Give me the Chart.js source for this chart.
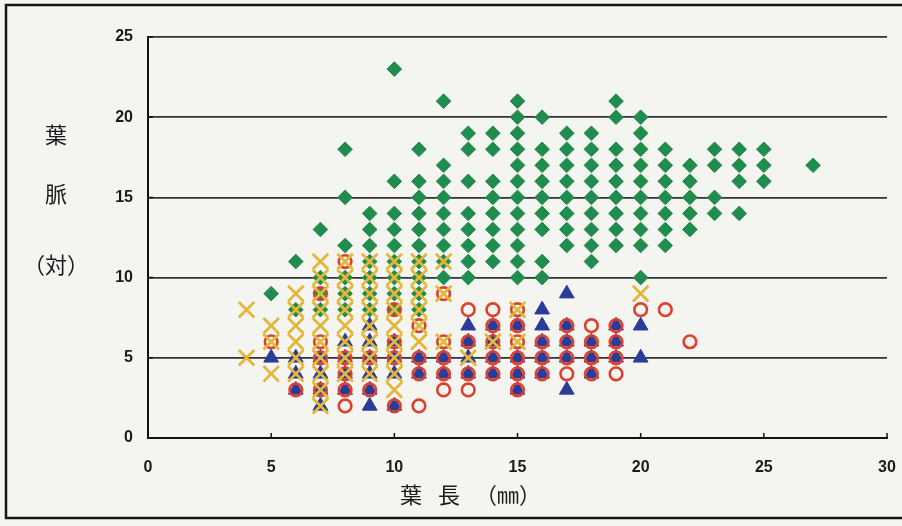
<!DOCTYPE html>
<html>
<head>
<meta charset="utf-8">
<script src="https://cdn.jsdelivr.net/npm/chart.js@4.4.1/dist/chart.umd.min.js"></script>
<style>
  html, body { margin: 0; padding: 0; background: #f4f4f1; }
  #wrap { position: relative; width: 902px; height: 526px; }
</style>
</head>
<body>
<div id="wrap"><canvas id="c" width="902" height="526"></canvas></div>
<script>
// ═══════════════════════════════════════════
// データ: 葉長(mm) ごとに葉脈数(対) を列で並べる
// ═══════════════════════════════════════════
const xTicks = [0, 5, 10, 15, 20, 25, 30];
const yTicks = [0, 5, 10, 15, 20, 25];

// ◆ 緑
const greenCols = [
  [5, [9]], [6, [8, 11]], [7, [8, 9, 10, 13]], [8, [8, 9, 10, 12, 15, 18]],
  [9, [8, 9, 10, 11, 12, 13, 14]], [10, [8, 9, 10, 11, 12, 13, 14, 16, 23]],
  [11, [8, 9, 10, 11, 12, 13, 14, 15, 16, 18]], [12, [10, 11, 12, 13, 14, 15, 16, 17, 21]],
  [13, [10, 11, 12, 13, 14, 16, 18, 19]], [14, [11, 12, 13, 14, 15, 16, 18, 19]],
  [15, [10, 11, 12, 13, 14, 15, 16, 17, 18, 19, 20, 21]], [16, [10, 11, 13, 14, 15, 16, 17, 18, 20]],
  [17, [12, 13, 14, 15, 16, 17, 18, 19]], [18, [11, 12, 13, 14, 15, 16, 17, 18, 19]],
  [19, [12, 13, 14, 15, 16, 17, 18, 20, 21]], [20, [10, 12, 13, 14, 15, 16, 17, 18, 19, 20]],
  [21, [12, 13, 14, 15, 16, 17, 18]], [22, [13, 14, 15, 16, 17]],
  [23, [14, 15, 17, 18]], [24, [14, 16, 17, 18]], [25, [16, 17, 18]], [27, [17]]
];
// × 黄
const yellowCols = [
  [4, [5, 8]], [5, [4, 6, 7]], [6, [4, 5, 6, 7, 8, 9]], [7, [2, 3, 4, 5, 6, 7, 8, 9, 10, 11]],
  [8, [4, 5, 6, 7, 8, 9, 10, 11]], [9, [4, 5, 6, 7, 8, 9, 10, 11]], [10, [3, 4, 5, 6, 7, 8, 9, 10, 11]],
  [11, [6, 7, 8, 9, 10, 11]], [12, [6, 9, 11]], [13, [5]], [14, [6]], [15, [6, 8]], [20, [9]]
];
// ▲ 青
const blueCols = [
  [5, [5]], [6, [3, 4, 5]], [7, [2, 3, 4, 5]], [8, [3, 4, 5, 6]], [9, [2, 3, 4, 5, 6, 7]],
  [10, [2, 4, 5, 6]], [11, [4, 5]], [12, [4, 5]], [13, [4, 5, 6, 7]], [14, [4, 5, 6, 7]],
  [15, [3, 4, 5, 7]], [16, [4, 5, 6, 7, 8]], [17, [3, 5, 6, 7, 9]], [18, [4, 5, 6]],
  [19, [5, 6, 7]], [20, [5, 7]]
];
// ○ 赤
const redCols = [
  [5, [6]], [6, [3]], [7, [3, 5, 6, 9]], [8, [2, 3, 4, 5, 11]], [9, [3, 5]], [10, [2, 5, 6, 8]],
  [11, [2, 4, 5, 7]], [12, [3, 4, 5, 6, 9]], [13, [3, 4, 6, 8]], [14, [4, 5, 6, 7, 8]],
  [15, [3, 4, 5, 6, 7, 8]], [16, [4, 5, 6]], [17, [4, 5, 6, 7]], [18, [4, 5, 6, 7]],
  [19, [4, 5, 6, 7]], [20, [8]], [21, [8]], [22, [6]]
];

function flat(cols) {
  const out = [];
  cols.forEach(([x, ys]) => ys.forEach(y => out.push({ x, y })));
  return out;
}

const GREEN = '#208c4e', YELLOW = '#e2b73a', BLUE = '#2b3b98', RED = '#de402c';
const INK = '#1b1b1b';

// 背景・枠・目盛り・軸タイトル
const paperPlugin = {
  id: 'paper',
  beforeDraw(chart) {
    const ctx = chart.ctx;
    ctx.save();
    ctx.fillStyle = '#f4f4f1';
    ctx.fillRect(0, 0, chart.width, chart.height);
    ctx.strokeStyle = '#151515';
    ctx.lineWidth = 2.5;
    ctx.beginPath();
    ctx.moveTo(902, 5); ctx.lineTo(6, 5); ctx.lineTo(6, 518); ctx.lineTo(902, 518);
    ctx.stroke();
    ctx.restore();
  },
  afterDraw(chart) {
    const ctx = chart.ctx;
    const xs = chart.scales.x, ys = chart.scales.y, a = chart.chartArea;
    ctx.save();
    // 内向きの短い目盛り
    ctx.strokeStyle = '#111';
    ctx.lineWidth = 1.5;
    ctx.beginPath();
    xTicks.forEach(v => { const px = xs.getPixelForValue(v); ctx.moveTo(px, a.bottom); ctx.lineTo(px, a.bottom - 5); });
    yTicks.forEach(v => { const py = ys.getPixelForValue(v); ctx.moveTo(a.left, py); ctx.lineTo(a.left + 5, py); });
    ctx.stroke();

    ctx.fillStyle = INK;
    ctx.textAlign = 'center';
    ctx.textBaseline = 'middle';
    ctx.font = '22px "Noto Sans CJK JP"';
    ctx.fillText('葉', 56, 135);
    ctx.fillText('脈', 56, 194);
    ctx.fillText('（対）', 56, 265);
    ctx.fillText('葉', 411, 495);
    ctx.fillText('長', 449, 495);
    ctx.fillText('（㎜）', 508, 495);
    ctx.restore();
  }
};

new Chart(document.getElementById('c'), {
  type: 'scatter',
  data: {
    datasets: [
      { label: '×', data: flat(yellowCols), pointStyle: 'crossRot', pointRadius: 11,
        borderColor: YELLOW, backgroundColor: YELLOW, pointBorderWidth: 2.8 },
      { label: '○', data: flat(redCols), pointStyle: 'circle', pointRadius: 6.3,
        borderColor: RED, backgroundColor: 'rgba(0,0,0,0)', pointBorderWidth: 2.6 },
      { label: '▲', data: flat(blueCols), pointStyle: 'triangle', pointRadius: 8.5,
        borderColor: BLUE, backgroundColor: BLUE, pointBorderWidth: 1 },
      { label: '◆', data: flat(greenCols), pointStyle: 'rectRot', pointRadius: 7.3,
        borderColor: GREEN, backgroundColor: GREEN, pointBorderWidth: 1 }
    ]
  },
  options: {
    responsive: false,
    animation: false,
    devicePixelRatio: 1,
    layout: { padding: { top: 37, right: 0, left: 0, bottom: 0 } },
    plugins: { legend: { display: false }, tooltip: { enabled: false } },
    scales: {
      x: {
        type: 'linear', min: 0, max: 30,
        afterBuildTicks: s => { s.ticks = xTicks.map(v => ({ value: v })); },
        afterFit: s => { s.height = 88; s.paddingRight = 15; s.paddingLeft = 0; },
        grid: { color: 'rgba(0,0,0,0)', drawTicks: false },
        border: { display: true, color: '#111', width: 2 },
        ticks: { padding: 20, color: INK, font: { family: '"Liberation Sans", Arial', size: 16, weight: 'bold' } }
      },
      y: {
        type: 'linear', min: 0, max: 25,
        afterBuildTicks: s => { s.ticks = yTicks.map(v => ({ value: v })); },
        afterFit: s => { s.width = 148; },
        grid: { color: c => c.tick && c.tick.value === 0 ? 'rgba(0,0,0,0)' : '#333', lineWidth: 1.8, drawTicks: false },
        border: { display: true, color: '#111', width: 2 },
        ticks: { padding: 15, color: INK, font: { family: '"Liberation Sans", Arial', size: 16, weight: 'bold' } }
      }
    }
  },
  plugins: [paperPlugin]
});
</script>
</body>
</html>
